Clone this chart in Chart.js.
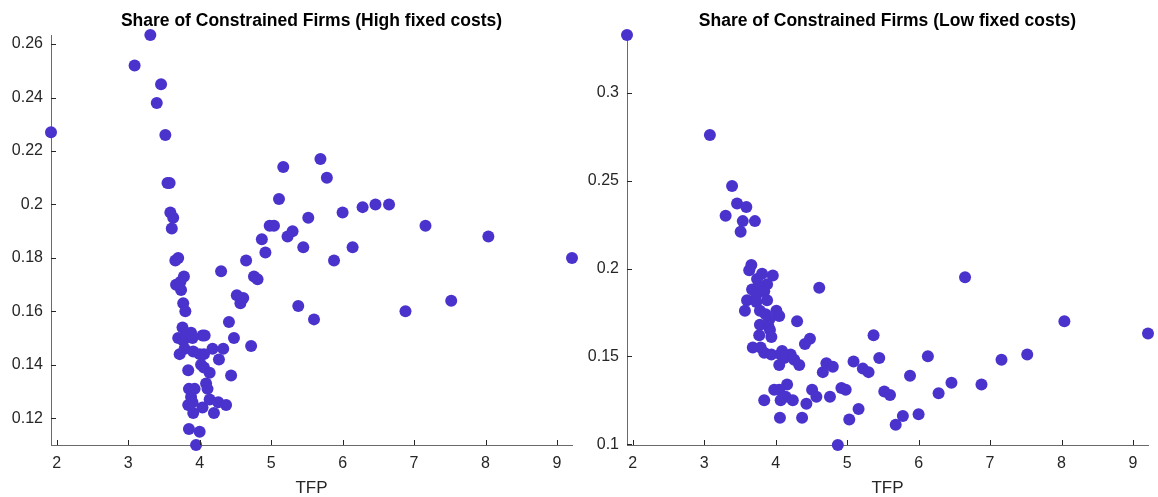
<!DOCTYPE html>
<html>
<head>
<meta charset="utf-8">
<script src="https://cdn.jsdelivr.net/npm/chart.js@4.4.1/dist/chart.umd.min.js"></script>
<style>
  html, body { margin: 0; padding: 0; background: #fff; }
  #wrap { position: relative; width: 1158px; height: 497px; }
  .pane { position: absolute; top: 0; height: 497px; }
</style>
</head>
<body>
<div id="wrap">
  <div class="pane" style="left:0;width:580px"><canvas id="high"></canvas></div>
  <div class="pane" style="left:580px;width:578px"><canvas id="low"></canvas></div>
</div>
<script>
// TFP vs share of constrained firms, high fixed costs
const highTfp = [1.92, 3.09, 3.31, 3.46, 3.40, 3.52, 3.55, 3.58, 3.59, 3.63, 3.61, 3.66, 3.70, 3.67, 3.73,
  3.78, 3.74, 3.77, 3.80, 3.76, 3.70, 3.77, 3.81, 3.88, 3.90, 4.04, 4.07, 3.72, 3.79, 3.91,
  4.00, 4.06, 4.18, 4.33, 4.02, 4.06, 3.84, 4.14, 4.27, 4.44, 4.09, 4.11, 3.85, 3.93, 3.88,
  3.90, 3.84, 3.91, 4.04, 4.14, 4.26, 4.37, 4.20, 3.85, 4.00, 3.95, 4.30, 4.41, 4.48, 4.52,
  4.57, 4.61, 4.65, 4.72, 4.76, 4.81, 4.87, 4.92, 4.98, 5.04, 5.11, 5.17, 5.23, 5.30, 5.38,
  5.45, 5.52, 5.60, 5.69, 5.78, 5.88, 6.00, 6.14, 6.28, 6.46, 6.65, 6.88, 7.16, 7.52, 8.04, 9.21];
const highShare = [0.227, 0.252, 0.2634, 0.245, 0.238, 0.226, 0.208, 0.208, 0.197, 0.195, 0.191, 0.179, 0.180, 0.170, 0.171,
  0.173, 0.168, 0.163, 0.160, 0.154, 0.150, 0.149, 0.151, 0.152, 0.150, 0.151, 0.151, 0.144, 0.146, 0.145,
  0.144, 0.144, 0.146, 0.146, 0.140, 0.139, 0.138, 0.137, 0.142, 0.136, 0.133, 0.131, 0.131, 0.131, 0.128,
  0.126, 0.125, 0.122, 0.124, 0.127, 0.126, 0.125, 0.122, 0.116, 0.115, 0.110, 0.175, 0.156, 0.150, 0.166,
  0.163, 0.165, 0.179, 0.147, 0.173, 0.172, 0.187, 0.182, 0.192, 0.192, 0.202, 0.214, 0.188, 0.190, 0.162,
  0.184, 0.195, 0.157, 0.217, 0.210, 0.179, 0.197, 0.184, 0.199, 0.200, 0.200, 0.160, 0.192, 0.164, 0.188, 0.180];

// low fixed costs
const lowTfp = [1.92, 3.08, 3.39, 3.46, 3.59, 3.30, 3.54, 3.71, 3.51, 3.66, 3.63, 3.81, 3.96, 3.74, 3.88,
  3.76, 3.67, 3.84, 3.73, 3.60, 3.88, 3.73, 3.57, 3.78, 4.01, 3.86, 4.05, 3.91, 4.30, 3.78,
  3.90, 3.92, 3.77, 3.94, 4.61, 4.48, 4.41, 3.68, 3.79, 3.84, 3.94, 4.09, 4.07, 4.21, 4.05,
  4.33, 4.12, 4.26, 4.71, 4.80, 4.66, 5.09, 3.98, 4.05, 4.16, 3.84, 4.07, 4.24, 4.14, 4.43,
  4.51, 4.57, 4.76, 4.92, 4.98, 4.06, 4.37, 4.87, 5.03, 5.16, 5.22, 5.30, 5.37, 5.45, 5.52,
  5.60, 5.68, 5.78, 5.88, 6.00, 6.13, 6.28, 6.46, 6.65, 6.88, 7.16, 7.52, 8.04, 9.21];
const lowShare = [0.333, 0.276, 0.247, 0.237, 0.235, 0.230, 0.227, 0.227, 0.221, 0.202, 0.199, 0.197, 0.196, 0.194, 0.191,
  0.190, 0.188, 0.187, 0.185, 0.182, 0.182, 0.181, 0.176, 0.176, 0.176, 0.174, 0.173, 0.171, 0.170, 0.168,
  0.167, 0.165, 0.162, 0.161, 0.189, 0.160, 0.157, 0.155, 0.155, 0.152, 0.151, 0.153, 0.151, 0.151, 0.145,
  0.145, 0.149, 0.148, 0.146, 0.144, 0.141, 0.147, 0.131, 0.131, 0.134, 0.125, 0.125, 0.125, 0.127, 0.123,
  0.131, 0.127, 0.127, 0.132, 0.131, 0.115, 0.115, 0.0995, 0.114, 0.120, 0.143, 0.141, 0.162, 0.149, 0.130,
  0.128, 0.111, 0.116, 0.139, 0.117, 0.150, 0.129, 0.135, 0.195, 0.134, 0.148, 0.151, 0.170, 0.163];

const tfpTicks = [2, 3, 4, 5, 6, 7, 8, 9];
const highTicks = [0.12, 0.14, 0.16, 0.18, 0.2, 0.22, 0.24, 0.26];
const lowTicks = [0.1, 0.15, 0.2, 0.25, 0.3];

const FONT = "'Liberation Sans', Arial, Helvetica, sans-serif";
const DOT = '#4a33cc';
const INK = '#262626';

// matlab style: ticks point inward
const inwardTicks = {
  id: 'inwardTicks',
  afterDraw (chart) {
    const { ctx, chartArea: a, scales } = chart;
    ctx.save();
    ctx.strokeStyle = INK;
    ctx.lineWidth = 1;
    ctx.beginPath();
    scales.x.ticks.forEach(t => {
      const px = Math.round(scales.x.getPixelForValue(t.value)) + 0.5;
      ctx.moveTo(px, a.bottom);
      ctx.lineTo(px, a.bottom - 5);
    });
    scales.y.ticks.forEach(t => {
      const py = Math.round(scales.y.getPixelForValue(t.value)) + 0.5;
      ctx.moveTo(a.left, py);
      ctx.lineTo(a.left + 5, py);
    });
    ctx.stroke();
    ctx.restore();
  }
};

const fmt = v => String(Number(v.toFixed(3)));

function makeChart (id, title, xs, ys, yTicks, yWidth, padRight) {
  const pts = xs.map((x, i) => ({ x, y: ys[i] }));
  const fixTicks = list => scale => { scale.ticks = list.map(v => ({ value: v })); };
  return new Chart(document.getElementById(id), {
    type: 'scatter',
    data: {
      datasets: [{
        data: pts,
        backgroundColor: DOT,
        borderWidth: 0,
        pointRadius: 6,
        pointHoverRadius: 6,
        clip: false
      }]
    },
    options: {
      responsive: true,
      maintainAspectRatio: false,
      animation: false,
      layout: { padding: { left: 0, right: padRight, top: 0, bottom: 0 } },
      plugins: {
        legend: { display: false },
        tooltip: { enabled: false },
        title: {
          display: true,
          fullSize: false, // centre over the axes like matlab
          text: title,
          color: '#000',
          font: { family: FONT, size: 17.5, weight: 'bold' },
          padding: { top: 11, bottom: 3 }
        }
      },
      scales: {
        x: {
          type: 'linear',
          min: Math.min(...xs),
          max: Math.max(...xs),
          afterBuildTicks: fixTicks(tfpTicks),
          afterFit: s => { s.height = 52; },
          grid: { display: false, drawTicks: false },
          border: { display: true, color: '#6a6a6a', width: 1 },
          ticks: {
            color: INK, padding: 9, maxRotation: 0,
            font: { family: FONT, size: 16 },
            callback: v => fmt(v)
          },
          title: {
            display: true, text: 'TFP', color: INK,
            font: { family: FONT, size: 17, lineHeight: 1 },
            padding: { top: 0, bottom: 0 }
          }
        },
        y: {
          type: 'linear',
          min: Math.min(...ys),
          max: Math.max(...ys),
          afterBuildTicks: fixTicks(yTicks),
          afterFit: s => { s.width = yWidth; },
          grid: { display: false, drawTicks: false },
          border: { display: true, color: '#6a6a6a', width: 1 },
          ticks: {
            color: INK, padding: 8,
            font: { family: FONT, size: 16 },
            callback: v => fmt(v)
          }
        }
      }
    },
    plugins: [inwardTicks]
  });
}

makeChart('high', 'Share of Constrained Firms (High fixed costs)', highTfp, highShare, highTicks, 51, 8);
makeChart('low', 'Share of Constrained Firms (Low fixed costs)', lowTfp, lowShare, lowTicks, 47, 10);
</script>
</body>
</html>
